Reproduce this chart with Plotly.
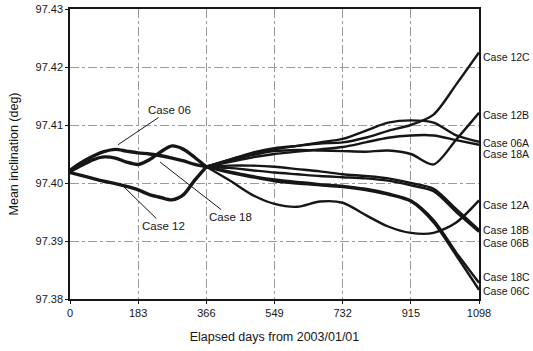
import plotly.graph_objects as go

# Elapsed days (knots)
days_base = [0, 30, 61, 91, 122, 152, 183, 213, 244, 274, 305, 335, 366]
case06_base = [97.4022, 97.4035, 97.4046, 97.4054, 97.4058, 97.4055, 97.4052, 97.4050, 97.4047, 97.4043, 97.4038, 97.4032, 97.4028]
case18_base = [97.4020, 97.4030, 97.4040, 97.4045, 97.4043, 97.4036, 97.4032, 97.4040, 97.4054, 97.4064, 97.4058, 97.4044, 97.4028]
case12_base = [97.4018, 97.4013, 97.4008, 97.4003, 97.3999, 97.3994, 97.3988, 97.3980, 97.3975, 97.3971, 97.3980, 97.4005, 97.4028]

days_tail = [366, 427, 488, 549, 610, 671, 732, 793, 854, 915, 976, 1037, 1098]
case12C = [97.4028, 97.4040, 97.4052, 97.4060, 97.4064, 97.4068, 97.4070, 97.4078, 97.4090, 97.4100, 97.4118, 97.4170, 97.4225]
case12B = [97.4028, 97.4038, 97.4048, 97.4055, 97.4057, 97.4056, 97.4055, 97.4054, 97.4056, 97.4050, 97.4032, 97.4075, 97.4121]
case06A = [97.4028, 97.4040, 97.4050, 97.4058, 97.4064, 97.4070, 97.4076, 97.4090, 97.4104, 97.4108, 97.4104, 97.4082, 97.4071]
case18A = [97.4028, 97.4036, 97.4044, 97.4050, 97.4054, 97.4058, 97.4062, 97.4070, 97.4078, 97.4082, 97.4082, 97.4074, 97.4066]
case12A = [97.4028, 97.4005, 97.3980, 97.3964, 97.3959, 97.3968, 97.3966, 97.3945, 97.3925, 97.3914, 97.3914, 97.3932, 97.3970]
case18B = [97.4028, 97.4030, 97.4030, 97.4028, 97.4024, 97.4020, 97.4015, 97.4012, 97.4008, 97.4000, 97.3990, 97.3955, 97.3919]
case06B = [97.4028, 97.4026, 97.4022, 97.4018, 97.4015, 97.4012, 97.4010, 97.4008, 97.4004, 97.3996, 97.3986, 97.3950, 97.3916]
case18C = [97.4028, 97.4020, 97.4012, 97.4006, 97.4002, 97.3998, 97.3995, 97.3990, 97.3982, 97.3970, 97.3936, 97.3880, 97.3828]
case06C = [97.4028, 97.4018, 97.4010, 97.4003, 97.3999, 97.3996, 97.3993, 97.3988, 97.3980, 97.3968, 97.3932, 97.3875, 97.3816]

x_ticks = [0, 183, 366, 549, 732, 915, 1098]
y_ticks = [97.38, 97.39, 97.40, 97.41, 97.42, 97.43]

tails = [
    ("Case 12C", case12C), ("Case 12B", case12B), ("Case 06A", case06A),
    ("Case 18A", case18A), ("Case 12A", case12A), ("Case 18B", case18B),
    ("Case 06B", case06B), ("Case 18C", case18C), ("Case 06C", case06C),
]
bases = [("Case 06", case06_base), ("Case 18", case18_base), ("Case 12", case12_base)]

# right-side label positions (value axis)
label_pos = [("Case 12C", 97.4217), ("Case 12B", 97.4117), ("Case 06A", 97.4069),
             ("Case 18A", 97.4050), ("Case 12A", 97.3962), ("Case 18B", 97.3919),
             ("Case 06B", 97.3897), ("Case 18C", 97.3838), ("Case 06C", 97.3814)]

FONT = "Liberation Sans, Arial, sans-serif"
INK = "#161616"

fig = go.Figure()
for name, ys in bases:
    fig.add_trace(go.Scatter(x=days_base, y=ys, mode="lines", name=name,
                             line=dict(color=INK, width=3.4, shape="spline", smoothing=0.8)))
for name, ys in tails:
    fig.add_trace(go.Scatter(x=days_tail, y=ys, mode="lines", name=name,
                             line=dict(color=INK, width=2.4, shape="spline", smoothing=0.8)))

for name, yv in label_pos:
    fig.add_annotation(x=1098, y=yv, text=name, showarrow=False, xanchor="left", xshift=2,
                       font=dict(family=FONT, size=10.5, color=INK))

# callouts for base cases (text centre = ax, ay ; arrow tip = x, y)
callouts = [("Case 06", 129, 97.4066, 268, 97.4126),
            ("Case 18", 242, 97.4036, 432, 97.3941),
            ("Case 12", 134, 97.4000, 252, 97.3926)]
for text, tx, ty, lx, ly in callouts:
    fig.add_annotation(x=tx, y=ty, ax=lx, ay=ly, axref="x", ayref="y", text=text,
                       showarrow=True, arrowhead=0, arrowwidth=1, arrowcolor=INK,
                       font=dict(family=FONT, size=11.5, color=INK))

fig.update_layout(
    width=533, height=351,
    margin=dict(l=70, r=54, t=9, b=52),
    paper_bgcolor="white", plot_bgcolor="white",
    showlegend=False,
    font=dict(family=FONT, size=11, color=INK),
)
fig.update_xaxes(range=[0, 1098], tickvals=x_ticks, ticktext=[str(v) for v in x_ticks],
                 showgrid=True, gridcolor="#9a9a9a", griddash="dashdot", gridwidth=1,
                 showline=True, linecolor=INK, linewidth=1.5, mirror=True,
                 ticks="outside", ticklen=3, tickcolor=INK, zeroline=False, automargin=False,
                 tickfont=dict(size=11),
                 title=dict(text="Elapsed days from 2003/01/01", font=dict(size=12.5), standoff=14))
fig.update_yaxes(range=[97.38, 97.43], tickvals=y_ticks, ticktext=[f"{v:.2f}" for v in y_ticks],
                 showgrid=True, gridcolor="#9a9a9a", griddash="dashdot", gridwidth=1,
                 showline=True, linecolor=INK, linewidth=1.5, mirror=True,
                 ticks="outside", ticklen=3, tickcolor=INK, zeroline=False, automargin=False,
                 tickfont=dict(size=11),
                 title=dict(text="Mean inclination (deg)", font=dict(size=12.5), standoff=14))

# remove the browser's default 8px body margin so the figure sits at the window origin
fig.write_html("out.html", config={"displayModeBar": False},
               post_script="document.body.style.margin='0';")
